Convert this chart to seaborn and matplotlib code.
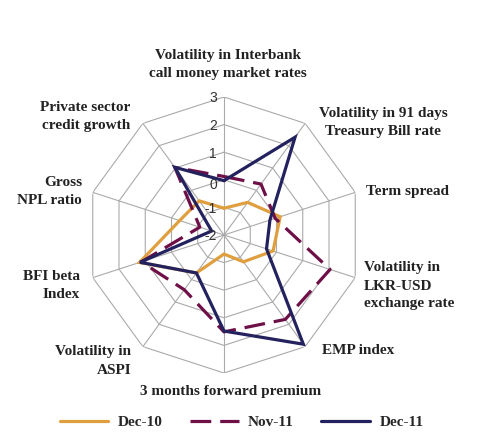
import numpy as np
import pandas as pd
import seaborn as sns
import matplotlib.pyplot as plt

sns.set_theme(style='white')
plt.rcParams['font.family'] = ['Liberation Serif', 'DejaVu Serif']

categories = ['Volatility in Interbank\ncall money market rates',
              'Volatility in 91 days\nTreasury Bill rate',
              'Term spread',
              'Volatility in\nLKR-USD\nexchange rate',
              'EMP index',
              '3 months forward premium',
              'Volatility in\nASPI',
              'BFI beta\nIndex',
              'Gross\nNPL ratio',
              'Private sector\ncredit growth']
dec10 = [-1.03, -0.54, 0.14, -0.13, -0.80, -1.31, -0.30, 1.22, -0.31, -0.47]
nov11 = [0.12, 0.28, -0.05, 2.04, 1.78, 1.51, 0.45, 1.15, -1.08, 1.03]
dec11 = [-0.03, 2.38, -0.25, -0.38, 2.89, 1.48, -0.30, 1.20, -1.53, 1.03]
series = ['Dec-10', 'Nov-11', 'Dec-11']
colors = {'Dec-10': '#E09F3E', 'Nov-11': '#6E1047', 'Dec-11': '#23215E'}
styles = {'Dec-10': '-', 'Nov-11': (0, (6.5, 2.8)), 'Dec-11': '-'}
rings = [-2, -1, 0, 1, 2, 3]

W, H = 497, 432
n = len(categories)
theta = np.linspace(0, 2 * np.pi, n, endpoint=False)
theta_c = np.append(theta, 2 * np.pi)

fig = plt.figure(figsize=(W / 100, H / 100), dpi=100)
cx, cy, R = 224, 235, 138
ax = fig.add_axes([(cx - R) / W, (H - cy - R) / H, 2 * R / W, 2 * R / H], projection='polar')
ax.set_theta_zero_location('N')
ax.set_theta_direction(-1)
ax.set_ylim(rings[0], rings[-1])
ax.grid(False)
ax.spines['polar'].set_visible(False)
ax.set_xticks([])
ax.set_yticks([])

# polygon grid + spokes
for r in rings[1:]:
    ax.plot(theta_c, [r] * (n + 1), color='#AAAAAA', lw=0.8, zorder=1)
for t in theta:
    ax.plot([t, t], [rings[0], rings[-1]], color='#AAAAAA', lw=0.8, zorder=1)

df = pd.DataFrame({'theta': np.tile(theta_c, 3),
                   'value': np.concatenate([v + v[:1] for v in (dec10, nov11, dec11)]),
                   'series': np.repeat(series, n + 1)})

handles = []
for s in series:
    d = df[df.series == s]
    sns.lineplot(x='theta', y='value', data=d, ax=ax, color=colors[s], lw=2.3,
                 linestyle=styles[s], sort=False, zorder=3)
    line = ax.lines[-1]
    line.set_solid_joinstyle('miter')
    handles.append(line)
if ax.get_legend():
    ax.get_legend().remove()
ax.set_xlabel('')
ax.set_ylabel('')
ax.set_ylim(rings[0], rings[-1])

for r in rings:
    dy = -4 if r == 0 else -1
    ax.annotate(str(r), xy=(0, r), xytext=(-5, dy), textcoords='offset points',
                ha='right', va='center', fontsize=10, color='#333333',
                family='Liberation Sans', annotation_clip=False)

label_pos = [(228, 64, 'center'), (383, 122, 'center'), (366, 192, 'left'),
             (364, 286, 'left'), (322, 351, 'left'), (231, 392, 'center'),
             (131, 361, 'right'), (80, 286, 'right'), (82, 192, 'right'),
             (130, 117, 'right')]
for lab, (x, y, ha) in zip(categories, label_pos):
    fig.text(x / W, 1 - y / H, lab, ha=ha, va='center', multialignment=ha,
             fontsize=11, fontweight='bold', color='#222222', linespacing=1.5)

fig.legend(handles, series, loc='center', bbox_to_anchor=(0.486, 1 - 422 / H), ncol=3,
           frameon=False, handlelength=3.2, handletextpad=0.6, columnspacing=1.8,
           prop={'family': 'Liberation Serif', 'weight': 'bold', 'size': 11})

fig.savefig('out.png', dpi=100)
